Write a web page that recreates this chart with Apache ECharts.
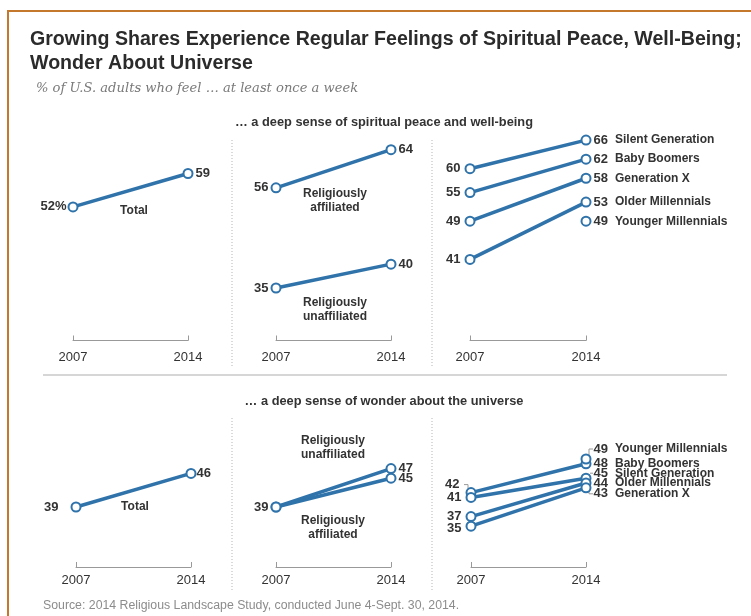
<!DOCTYPE html>
<html>
<head>
<meta charset="utf-8">
<script src="https://cdn.jsdelivr.net/npm/echarts@6/dist/echarts.min.js"></script>
<style>
html,body{margin:0;padding:0;background:#fff;}
#chart{width:751px;height:616px;}
</style>
</head>
<body>
<div id="chart"></div>
<script>
// ---------- data ----------
const years = ['2007', '2014'];

// spiritual peace and well-being
const peaceTotal = [52, 59];
const peaceAffiliated = [56, 64];
const peaceUnaffiliated = [35, 40];
const peaceSilent = [60, 66];
const peaceBoomers = [55, 62];
const peaceGenX = [49, 58];
const peaceOlderMill = [41, 53];
const peaceYoungerMill = [null, 49];

// wonder about the universe
const wonderTotal = [39, 46];
const wonderAffiliated = [39, 45];
const wonderUnaffiliated = [39, 47];
const wonderBoomers = [42, 48];
const wonderSilent = [41, 45];
const wonderOlderMill = [37, 44];
const wonderGenX = [35, 43];
const wonderYoungerMill = [null, 49];

const genNames = ['Silent Generation', 'Baby Boomers', 'Generation X', 'Older Millennials', 'Younger Millennials'];

// ---------- style ----------
const BLUE = '#2f73aa';
const TXT = '#333333';
const FONT = 'Liberation Sans, Arial, sans-serif';

const chart = echarts.init(document.getElementById('chart'), null, {renderer: 'canvas'});

const grids = [
  {left: 73, top: 121, width: 115, height: 219.5},
  {left: 276, top: 121, width: 115, height: 219.5},
  {left: 470, top: 121, width: 116, height: 219.5},
  {left: 76, top: 425.4, width: 115, height: 141.6},
  {left: 276, top: 425.4, width: 115, height: 141.6},
  {left: 471, top: 425.4, width: 115, height: 141.6}
];

const xAxes = grids.map((g, i) => ({
  type: 'category', gridIndex: i, data: years, boundaryGap: false,
  axisLine: {show: true, lineStyle: {color: '#999', width: 1}},
  axisTick: {show: true, inside: true, length: 5, lineStyle: {color: '#999'}},
  axisLabel: {color: TXT, fontFamily: FONT, fontSize: 13, margin: i < 3 ? 10 : 7},
  splitLine: {show: false}
}));

const yAxes = grids.map((g, i) => ({
  type: 'value', gridIndex: i, show: false,
  min: i < 3 ? 24 : 26.5, max: i < 3 ? 70 : 56,
  splitLine: {show: false}
}));

const numStyle = {color: TXT, fontFamily: FONT, fontSize: 13, fontWeight: 'bold'};

function mk(grid, vals, name, leftOpt, rightOpt) {
  const data = vals.map((v, i) => {
    const o = i === 0 ? leftOpt : rightOpt;
    const item = {value: v};
    if (o) {
      const lab = {
        show: true,
        position: i === 0 ? 'left' : 'right',
        distance: o.distance != null ? o.distance : 3,
        formatter: o.formatter || (p => String(p.value)),
        ...numStyle
      };
      if (o.offset) lab.offset = o.offset;
      if (o.rich) lab.rich = o.rich;
      item.label = lab;
    } else {
      item.label = {show: false};
    }
    return item;
  });
  return {
    type: 'line', name: name, xAxisIndex: grid, yAxisIndex: grid,
    data: data, symbol: 'circle', symbolSize: 9, showSymbol: true,
    lineStyle: {color: BLUE, width: 3.5},
    itemStyle: {color: '#fff', borderColor: BLUE, borderWidth: 2},
    emphasis: {disabled: true}, animation: false, z: 3
  };
}

const genRich = {
  v: {...numStyle},
  n: {color: TXT, fontFamily: FONT, fontSize: 12, fontWeight: 'bold', padding: [0, 0, 0, 7]}
};
function genLabel(nameIdx, offset) {
  return {
    distance: 2, offset: offset, rich: genRich,
    formatter: p => '{v|' + p.value + '}{n|' + genNames[nameIdx] + '}'
  };
}

// label offsets used in the crowded lower-right panel
const offBoomers07 = -8, offYounger14 = -10, offSilent14 = -5, offGenX14 = 6, offGenX07 = 2;

const series = [
  mk(0, peaceTotal, 'Total', {distance: 1, formatter: p => p.value + '%'}, {distance: 2}),
  mk(1, peaceAffiliated, 'Religiously affiliated', {distance: 2}, {distance: 2}),
  mk(1, peaceUnaffiliated, 'Religiously unaffiliated', {distance: 2}, {distance: 2}),
  mk(2, peaceSilent, genNames[0], {distance: 4}, genLabel(0)),
  mk(2, peaceBoomers, genNames[1], {distance: 4}, genLabel(1)),
  mk(2, peaceGenX, genNames[2], {distance: 4}, genLabel(2)),
  mk(2, peaceOlderMill, genNames[3], {distance: 4}, genLabel(3)),
  mk(2, peaceYoungerMill, genNames[4], null, genLabel(4)),

  mk(3, wonderTotal, 'Total', {distance: 12}, {distance: 0}),
  mk(4, wonderAffiliated, 'Religiously affiliated', {distance: 2}, {distance: 2}),
  mk(4, wonderUnaffiliated, 'Religiously unaffiliated', null, {distance: 2}),
  mk(5, wonderBoomers, genNames[1], {distance: 6, offset: [0, offBoomers07]}, genLabel(1, [0, 0])),
  mk(5, wonderSilent, genNames[0], {distance: 4}, genLabel(0, [0, offSilent14])),
  mk(5, wonderOlderMill, genNames[3], {distance: 4}, genLabel(3, [0, 0])),
  mk(5, wonderGenX, genNames[2], {distance: 4, offset: [0, offGenX07]}, genLabel(2, [0, offGenX14])),
  mk(5, wonderYoungerMill, genNames[4], null, genLabel(4, [0, offYounger14]))
];

function txt(x, y, s, opt) {
  return {
    type: 'text', x: x, y: y, silent: true,
    style: Object.assign({
      text: s, fill: TXT, font: 'bold 12px ' + FONT,
      textAlign: 'center', textVerticalAlign: 'middle'
    }, opt || {})
  };
}

const dotted = {stroke: '#b5b5b5', lineWidth: 1, lineDash: [1, 2]};
const graphics = [
  // frame
  {type: 'line', shape: {x1: 7, y1: 11, x2: 751, y2: 11}, style: {stroke: '#c4782c', lineWidth: 2}, silent: true},
  {type: 'line', shape: {x1: 8, y1: 10, x2: 8, y2: 616}, style: {stroke: '#c4782c', lineWidth: 2}, silent: true},
  // horizontal separator
  {type: 'line', shape: {x1: 43, y1: 375, x2: 727, y2: 375}, style: {stroke: '#d6d6d6', lineWidth: 2}, silent: true},
  // dotted vertical separators
  {type: 'line', shape: {x1: 232, y1: 140, x2: 232, y2: 368}, style: dotted, silent: true},
  {type: 'line', shape: {x1: 432, y1: 140, x2: 432, y2: 368}, style: dotted, silent: true},
  {type: 'line', shape: {x1: 232, y1: 418, x2: 232, y2: 590}, style: dotted, silent: true},
  {type: 'line', shape: {x1: 432, y1: 418, x2: 432, y2: 590}, style: dotted, silent: true},
  // section headings
  txt(384, 122, '\u2026 a deep sense of spiritual peace and well-being', {font: 'bold 12.8px ' + FONT}),
  txt(384, 401, '\u2026 a deep sense of wonder about the universe', {font: 'bold 12.8px ' + FONT}),
  // annotations
  txt(134, 211, 'Total'),
  txt(335, 194, 'Religiously'),
  txt(335, 208, 'affiliated'),
  txt(335, 303, 'Religiously'),
  txt(335, 317, 'unaffiliated'),
  txt(135, 507, 'Total'),
  txt(333, 441, 'Religiously'),
  txt(333, 455, 'unaffiliated'),
  txt(333, 521, 'Religiously'),
  txt(333, 535, 'affiliated'),
  // source
  txt(43, 606, 'Source: 2014 Religious Landscape Study, conducted June 4-Sept. 30, 2014.',
      {font: '12.3px ' + FONT, fill: '#8c8c8c', textAlign: 'left'})
];

chart.setOption({
  animation: false,
  backgroundColor: '#fff',
  title: [
    {text: 'Growing Shares Experience Regular Feelings of Spiritual Peace, Well-Being;\nWonder About Universe',
     left: 30, top: 28, padding: 0,
     textStyle: {fontFamily: FONT, fontSize: 19.6, fontWeight: 'bold', color: '#2b2b2b', lineHeight: 24}},
    {text: '% of U.S. adults who feel \u2026 at least once a week', left: 36, top: 82, padding: 0,
     textStyle: {fontFamily: 'DejaVu Serif, serif', fontSize: 13.1, fontStyle: 'italic', fontWeight: 'normal', color: '#7a7a7a'}}
  ],
  grid: grids,
  xAxis: xAxes,
  yAxis: yAxes,
  series: series,
  graphic: graphics
});

// small leader marks next to the shifted labels (positions from the chart's own scales)
function px(g, xi, v) { return chart.convertToPixel({gridIndex: g}, [xi, v]); }
const lead = {stroke: '#9a9a9a', lineWidth: 1};
const marks = [];
(function () {
  const a = px(5, 0, wonderBoomers[0]);
  marks.push({type: 'polyline', silent: true, shape: {points: [[a[0] - 3, a[1] - 4], [a[0] - 3, a[1] + offBoomers07], [a[0] - 7, a[1] + offBoomers07]]}, style: lead});
  const b = px(5, 1, wonderYoungerMill[1]);
  marks.push({type: 'polyline', silent: true, shape: {points: [[b[0] + 3, b[1] - 4], [b[0] + 3, b[1] + offYounger14], [b[0] + 7, b[1] + offYounger14]]}, style: lead});
  const c = px(5, 1, wonderSilent[1]);
  marks.push({type: 'polyline', silent: true, shape: {points: [[c[0] + 4, c[1] + offSilent14], [c[0] + 7, c[1] + offSilent14]]}, style: lead});
  const d = px(5, 1, wonderGenX[1]);
  marks.push({type: 'polyline', silent: true, shape: {points: [[d[0] + 3, d[1] + 4], [d[0] + 3, d[1] + offGenX14], [d[0] + 7, d[1] + offGenX14]]}, style: lead});
})();
chart.setOption({graphic: graphics.concat(marks)}, {replaceMerge: ['graphic']});
</script>
</body>
</html>
